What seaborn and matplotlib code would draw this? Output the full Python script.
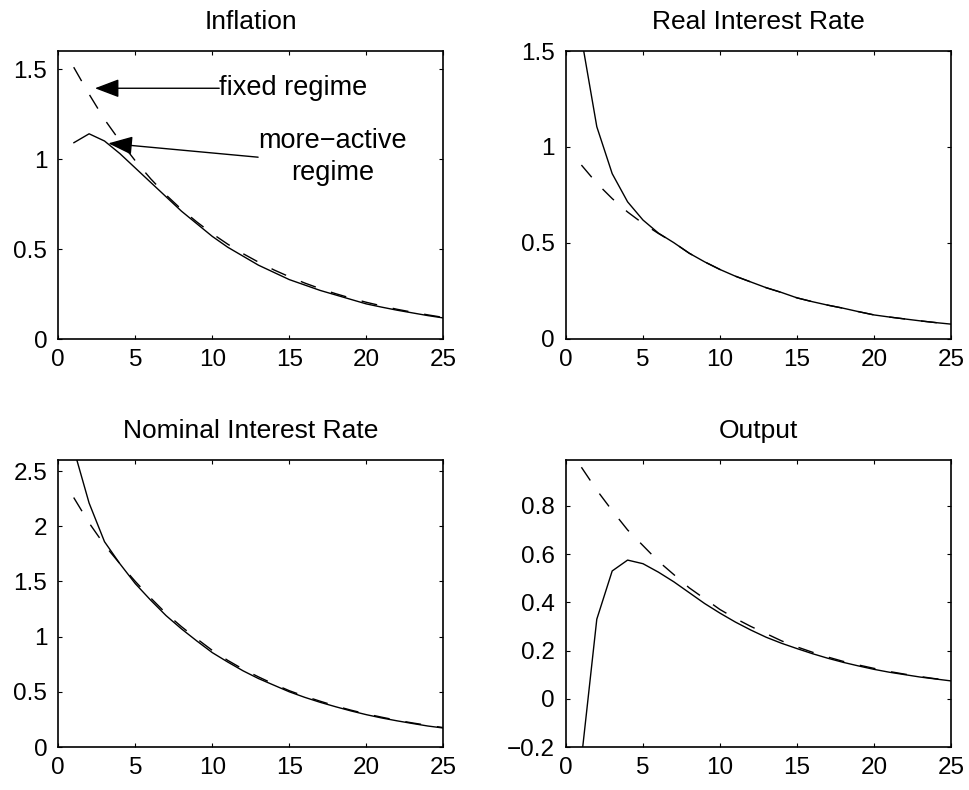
import matplotlib
matplotlib.use("Agg")
import matplotlib.pyplot as plt
import numpy as np
import pandas as pd
import seaborn as sns

# Impulse responses over 25 periods: solid = more-active regime, dashed = fixed regime
periods = list(range(1, 26))

inflation_active = [1.09, 1.14, 1.10, 1.03, 0.95, 0.87, 0.79, 0.71, 0.64, 0.57,
                    0.51, 0.46, 0.41, 0.37, 0.33, 0.30, 0.27, 0.245, 0.22, 0.195,
                    0.177, 0.16, 0.145, 0.13, 0.117]
inflation_fixed = [1.51, 1.36, 1.22, 1.10, 0.99, 0.89, 0.80, 0.72, 0.65, 0.585,
                   0.527, 0.474, 0.427, 0.384, 0.346, 0.311, 0.280, 0.252, 0.227, 0.204,
                   0.184, 0.165, 0.149, 0.134, 0.12]

real_active = [1.57, 1.105, 0.86, 0.713, 0.618, 0.55, 0.50, 0.445, 0.40, 0.36,
               0.325, 0.295, 0.265, 0.24, 0.212, 0.192, 0.174, 0.158, 0.14, 0.123,
               0.112, 0.102, 0.092, 0.083, 0.075]
real_fixed = [0.905, 0.81, 0.73, 0.66, 0.60, 0.548, 0.50, 0.445, 0.40, 0.36,
              0.325, 0.295, 0.265, 0.24, 0.212, 0.192, 0.174, 0.158, 0.14, 0.123,
              0.112, 0.102, 0.092, 0.083, 0.075]

nominal_active = [2.70, 2.21, 1.86, 1.66, 1.48, 1.33, 1.19, 1.07, 0.96, 0.855,
                  0.77, 0.69, 0.62, 0.56, 0.50, 0.45, 0.405, 0.365, 0.327, 0.293,
                  0.263, 0.237, 0.213, 0.19, 0.172]
nominal_fixed = [2.26, 2.03, 1.83, 1.66, 1.50, 1.35, 1.21, 1.09, 0.98, 0.875,
                 0.785, 0.705, 0.635, 0.57, 0.51, 0.46, 0.415, 0.372, 0.334, 0.30,
                 0.27, 0.242, 0.218, 0.196, 0.176]

output_active = [-0.25, 0.33, 0.53, 0.575, 0.56, 0.525, 0.485, 0.44, 0.395, 0.355,
                 0.318, 0.285, 0.255, 0.23, 0.208, 0.187, 0.168, 0.151, 0.136, 0.122,
                 0.11, 0.10, 0.09, 0.082, 0.074]
output_fixed = [0.96, 0.865, 0.78, 0.70, 0.635, 0.57, 0.515, 0.46, 0.415, 0.37,
                0.333, 0.30, 0.27, 0.24, 0.215, 0.193, 0.173, 0.155, 0.14, 0.126,
                0.113, 0.102, 0.092, 0.083, 0.078]

titles = ["Inflation", "Real Interest Rate", "Nominal Interest Rate", "Output"]
x_ticks = [0, 5, 10, 15, 20, 25]
x_tick_labels = ["0", "5", "10", "15", "20", "25"]
y_ticks = [[0, 0.5, 1, 1.5], [0, 0.5, 1, 1.5],
           [0, 0.5, 1, 1.5, 2, 2.5], [-0.2, 0, 0.2, 0.4, 0.6, 0.8]]
y_tick_labels = [["0", "0.5", "1", "1.5"], ["0", "0.5", "1", "1.5"],
                 ["0", "0.5", "1", "1.5", "2", "2.5"],
                 ["\u22120.2", "0", "0.2", "0.4", "0.6", "0.8"]]
y_limits = [(0, 1.6), (0, 1.5), (0, 2.6), (-0.2, 0.99)]

panels = [(inflation_active, inflation_fixed), (real_active, real_fixed),
          (nominal_active, nominal_fixed), (output_active, output_fixed)]

sns.set_theme(style="white")
plt.rcParams["font.family"] = ["Liberation Sans", "DejaVu Sans"]
plt.rcParams["lines.scale_dashes"] = False

fig = plt.figure(figsize=(9.69, 7.90), dpi=100)
W, H = 969.0, 790.0
# axes boxes in pixels: (left, top, right, bottom)
boxes = [(58.3, 51, 443.3, 339), (566, 51, 951, 338.5),
         (58.3, 460, 443.3, 747), (566, 460, 951, 747)]

axes = []
for i, (l, t, r, b) in enumerate(boxes):
    ax = fig.add_axes([l / W, 1 - b / H, (r - l) / W, (b - t) / H])
    active, fixed = panels[i]
    df = pd.DataFrame({"period": periods, "active": active, "fixed": fixed})
    sns.lineplot(data=df, x="period", y="fixed", ax=ax, color="black",
                 linewidth=1.0, linestyle=(0, (11.5, 11.5)))
    sns.lineplot(data=df, x="period", y="active", ax=ax, color="black",
                 linewidth=1.0)
    ax.set_xlim(0, 25)
    ax.set_ylim(*y_limits[i])
    ax.set_xticks(x_ticks)
    ax.set_xticklabels(x_tick_labels)
    ax.set_yticks(y_ticks[i])
    ax.set_yticklabels(y_tick_labels[i])
    ax.set_xlabel("")
    ax.set_ylabel("")
    ax.set_title(titles[i], fontsize=19, pad=16, color="black")
    for sp in ax.spines.values():
        sp.set_visible(True)
        sp.set_color("black")
        sp.set_linewidth(1.2)
    ax.tick_params(axis="both", which="both", direction="in", length=3,
                   width=0.8, colors="black", labelsize=17.5,
                   top=True, right=True, bottom=True, left=True)
    ax.tick_params(axis="x", pad=7.5)
    ax.tick_params(axis="y", pad=8)
    ax.grid(False)
    axes.append(ax)

ax0 = axes[0]
arrow_style = dict(arrowstyle="-|>,head_length=1.0,head_width=0.38",
                   mutation_scale=15, color="black", linewidth=1.0,
                   shrinkA=0, shrinkB=0, patchA=None)
ax0.annotate("fixed regime", xy=(2.38, 1.393), xytext=(10.45, 1.393),
             xycoords="data", textcoords="data", ha="left", va="center",
             fontsize=19.5, color="black",
             arrowprops=dict(relpos=(0, 0.5), **arrow_style))
ax0.annotate("more\u2212active\nregime", xy=(3.25, 1.087), xytext=(17.8, 1.01),
             xycoords="data", textcoords="data", ha="center", va="center",
             multialignment="center", linespacing=1.32,
             fontsize=19.5, color="black",
             arrowprops=dict(relpos=(0, 0.5), **arrow_style))

fig.savefig("out.png", dpi=100, facecolor="white")
